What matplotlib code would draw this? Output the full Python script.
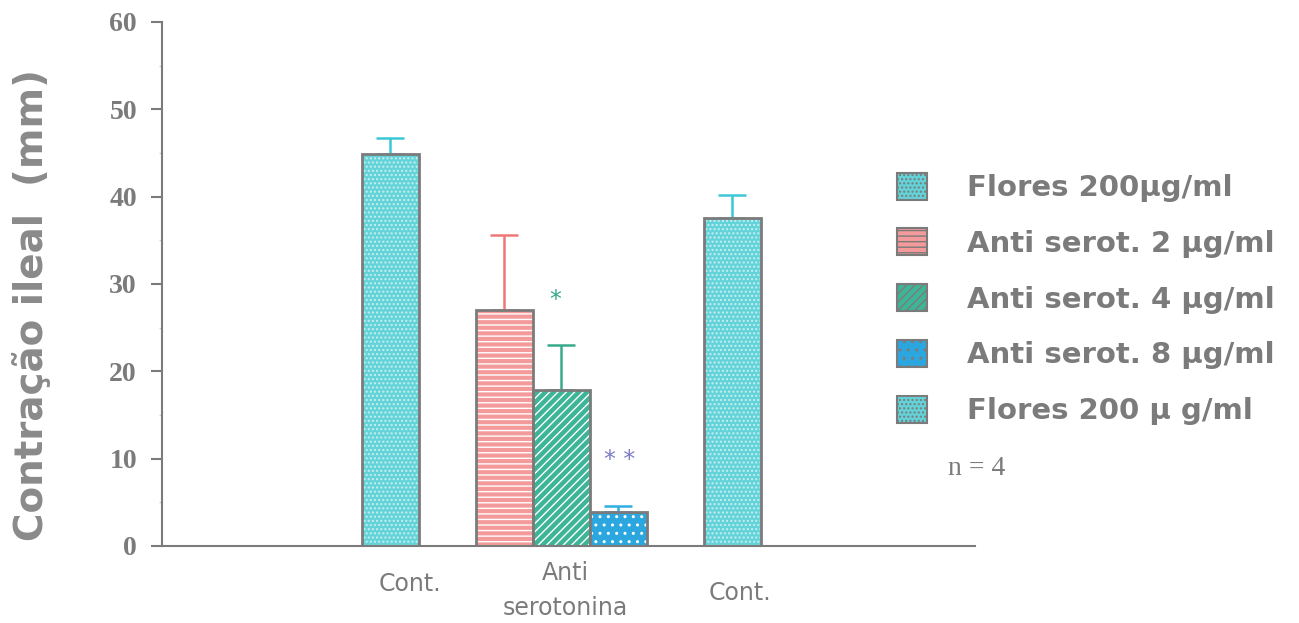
import matplotlib
matplotlib.use("Agg")
import matplotlib.pyplot as plt
from matplotlib.patches import Patch

# bar data (mm)
groups = ["Cont.", "Anti\nserotonina", "Cont."]
bar_pos = [4, 6, 7, 8, 10]
bar_vals = [44.9, 27.0, 17.9, 3.9, 37.5]
bar_err = [1.8, 8.6, 5.1, 0.7, 2.7]
legend_labels = ["Flores 200\u03bcg/ml", "Anti serot. 2 \u03bcg/ml", "Anti serot. 4 \u03bcg/ml",
                 "Anti serot. 8 \u03bcg/ml", "Flores 200 \u03bc g/ml"]

grey = "#7b7b7b"
faces = ["#62d3d8", "#f49a9a", "#3db597", "#2ca6de", "#62d3d8"]
hatches = ["....", "---", "////", "..", "...."]
hatch_cols = ["#c9eef0", "#ffffff", "#ffffff", "#ffffff", "#c9eef0"]
err_cols = ["#3cc6d6", "#ee7878", "#3aa98a", "#30aee0", "#3cc6d6"]

fig = plt.figure(figsize=(12.99, 6.23), dpi=100)
ax = fig.add_axes([0.1247, 0.1236, 0.7506 - 0.1247, 0.9647 - 0.1236])

for x, v, e, fc, h, hc, ec in zip(bar_pos, bar_vals, bar_err, faces, hatches, hatch_cols, err_cols):
    ax.bar(x, v, width=1, color=fc, hatch=h, edgecolor=hc, linewidth=0, zorder=2)
    ax.bar(x, v, width=1, fill=False, edgecolor=grey, linewidth=2, zorder=3)
    ax.errorbar(x, v, yerr=[[0], [e]], fmt="none", ecolor=ec, elinewidth=1.8,
                capsize=10, capthick=1.8, zorder=1)

ax.text(6.9, 28.2, "*", color="#3aa98a", fontsize=17, ha="center", va="center")
ax.text(8.03, 9.8, "* *", color="#7c7cc8", fontsize=17, ha="center", va="center")

ax.set_xlim(0, 14.26)
ax.set_ylim(0, 60)
ax.set_yticks(range(0, 61, 10))
ax.set_yticks(range(5, 60, 10), minor=True)
ax.set_xticks([])
for s in ["top", "right"]:
    ax.spines[s].set_visible(False)
for s in ["left", "bottom"]:
    ax.spines[s].set_color(grey)
    ax.spines[s].set_linewidth(1.5)
ax.tick_params(axis="y", which="major", length=8, width=1.5, color=grey, pad=10,
               labelsize=20, labelcolor=grey)
ax.tick_params(axis="y", which="minor", length=2, width=1, color="#cccccc")
for t in ax.get_yticklabels():
    t.set_fontfamily("Liberation Serif")
    t.set_fontweight("bold")

# group labels under the axis
ax.text(4.35, -4.3, groups[0], ha="center", va="center", fontsize=17, color=grey)
ax.text(7.07, -5.1, groups[1], ha="center", va="center", fontsize=17, color=grey,
        linespacing=1.55)
ax.text(10.14, -5.4, groups[2], ha="center", va="center", fontsize=17, color=grey)
for t in ax.texts[-3:]:
    t.set_clip_on(False)

ax.set_ylabel("Contra\u00e7\u00e3o ileal  (mm)", fontsize=28, fontweight="bold", color="#8a8a8a")
ax.yaxis.set_label_coords(-0.137, 0.46)

handles = [Patch(facecolor=fc, hatch=h, edgecolor=grey, linewidth=1.5)
           for fc, h in zip(faces, hatches)]
leg = fig.legend(handles, legend_labels, loc="upper left", bbox_to_anchor=(0.670, 0.765),
                 frameon=False, handlelength=1.05, handleheight=1.05,
                 handletextpad=1.35, labelspacing=0.9,
                 prop={"weight": "bold", "size": 21})
for t in leg.get_texts():
    t.set_color(grey)
fig.text(0.730, 0.248, "n = 4", fontsize=20, color=grey, family="Liberation Serif",
         va="center")

fig.savefig("out.png", dpi=100)
